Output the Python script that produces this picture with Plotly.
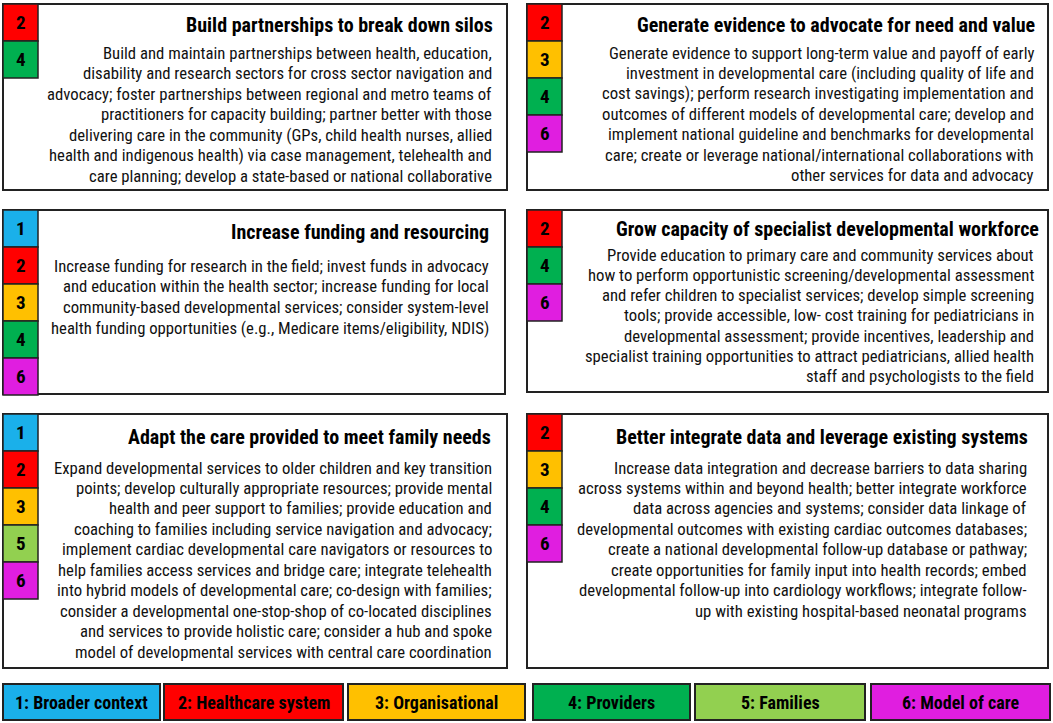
import plotly.graph_objects as go

# legend categories and their colours
categories = ["1: Broader context", "2: Healthcare system", "3: Organisational",
              "4: Providers", "5: Families", "6: Model of care"]
cat_colors = ["#1ab0ea", "#ff0000", "#ffc000", "#00b050", "#92d050", "#e01ee0"]

# the six strategy panels
titles = [
    "Build partnerships to break down silos",
    "Generate evidence to advocate for need and value",
    "Increase funding and resourcing",
    "Grow capacity of specialist developmental workforce",
    "Adapt the care provided to meet family needs",
    "Better integrate data and leverage existing systems",
]
panel_cats = [[2, 4], [2, 3, 4, 6], [1, 2, 3, 4, 6], [2, 4, 6], [1, 2, 3, 5, 6], [2, 3, 4, 6]]
bodies = [
    ["Build and maintain partnerships between health, education,",
     "disability and research sectors for cross sector navigation and",
     "advocacy; foster partnerships between regional and metro teams of",
     "practitioners for capacity building; partner better with those",
     "delivering care in the community (GPs, child health nurses, allied",
     "health and indigenous health) via case management, telehealth and",
     "care planning; develop a state-based or national collaborative"],
    ["Generate evidence to support long-term value and payoff of early",
     "investment in developmental care (including quality of life and",
     "cost savings); perform research investigating implementation and",
     "outcomes of different models of developmental care; develop and",
     "implement national guideline and benchmarks for developmental",
     "care; create or leverage national/international collaborations with",
     "other services for data and advocacy"],
    ["Increase funding for research in the field; invest funds in advocacy",
     "and education within the health sector; increase funding for local",
     "community-based developmental services; consider system-level",
     "health funding opportunities (e.g., Medicare items/eligibility, NDIS)"],
    ["Provide education to primary care and community services about",
     "how to perform opportunistic screening/developmental assessment",
     "and refer children to specialist services; develop simple screening",
     "tools; provide accessible, low- cost training for pediatricians in",
     "developmental assessment; provide incentives, leadership and",
     "specialist training opportunities to attract pediatricians, allied health",
     "staff and psychologists to the field"],
    ["Expand developmental services to older children and key transition",
     "points; develop culturally appropriate resources; provide mental",
     "health and peer support to families; provide education and",
     "coaching to families including service navigation and advocacy;",
     "implement cardiac developmental care navigators or resources to",
     "help families access services and bridge care; integrate telehealth",
     "into hybrid models of developmental care; co-design with families;",
     "consider a developmental one-stop-shop of co-located disciplines",
     "and services to provide holistic care; consider a hub and spoke",
     "model of developmental services with central care coordination"],
    ["Increase data integration and decrease barriers to data sharing",
     "across systems within and beyond health; better integrate workforce",
     "data across agencies and systems; consider data linkage of",
     "developmental outcomes with existing cardiac outcomes databases;",
     "create a national developmental follow-up database or pathway;",
     "create opportunities for family input into health records; embed",
     "developmental follow-up into cardiology workflows; integrate follow-",
     "up with existing hospital-based neonatal programs"],
]

# layout: panel frames (x0, y0, x1, y1) in pixels, text anchors
frames = [(3, 4, 507, 190), (527, 4, 1048, 190),
          (3, 210, 505, 394), (527, 210, 1048, 392),
          (3, 414, 507, 668), (527, 414, 1048, 668)]
title_pos = [(495, 25), (1037, 25), (491, 232), (1041, 229), (493, 437), (1030, 437)]
body_right = [494, 1036, 491, 1036, 494, 1029]
body_first = [53, 53, 266, 255, 468, 468]
body_step = [20.5, 20.4, 20.7, 20.3, 20.45, 20.45]
legend_x = [(3, 160), (164, 343), (348, 525), (533, 690), (695, 865), (871, 1050)]
TILE_W, TILE_H = 35, 37
FONT = "Roboto Condensed, Liberation Sans Narrow, Roboto, sans-serif"

fig = go.Figure()
shapes, annotations = [], []

for i, (x0, y0, x1, y1) in enumerate(frames):
    shapes.append(dict(type="rect", x0=x0, y0=y0, x1=x1, y1=y1,
                       line=dict(color="#222222", width=2), fillcolor="white", layer="below"))
    for k, c in enumerate(panel_cats[i]):
        ty = y0 + k * TILE_H
        shapes.append(dict(type="rect", x0=x0, y0=ty, x1=x0 + TILE_W, y1=ty + TILE_H,
                           line=dict(color="#222222", width=1.5), fillcolor=cat_colors[c - 1]))
        annotations.append(dict(x=x0 + TILE_W / 2, y=ty + TILE_H / 2, text=f"<b>{c}</b>",
                                showarrow=False, font=dict(family=FONT, size=19, color="black")))
    tx, tyy = title_pos[i]
    annotations.append(dict(x=tx, y=tyy, text=f"<b>{titles[i]}</b>", showarrow=False,
                            xanchor="right", yanchor="middle",
                            font=dict(family=FONT, size=20, color="black")))
    for k, line in enumerate(bodies[i]):
        annotations.append(dict(x=body_right[i], y=body_first[i] + k * body_step[i], text=line,
                                showarrow=False, xanchor="right", yanchor="middle",
                                font=dict(family=FONT, size=16.7, color="#111111")))

for (lx0, lx1), label, col in zip(legend_x, categories, cat_colors):
    shapes.append(dict(type="rect", x0=lx0, y0=684, x1=lx1, y1=720,
                       line=dict(color="#222222", width=2), fillcolor=col))
    annotations.append(dict(x=(lx0 + lx1) / 2, y=702, text=f"<b>{label}</b>", showarrow=False,
                            font=dict(family=FONT, size=18, color="black")))

fig.update_layout(
    width=1053, height=723,
    margin=dict(l=0, r=0, t=0, b=0),
    paper_bgcolor="white", plot_bgcolor="white",
    xaxis=dict(range=[0, 1053], visible=False, fixedrange=True),
    yaxis=dict(range=[723, 0], visible=False, fixedrange=True),
    shapes=shapes, annotations=annotations,
    showlegend=False,
)

fig.write_html("out.html", config={"displayModeBar": False},
               post_script="document.body.style.margin = '0';")
